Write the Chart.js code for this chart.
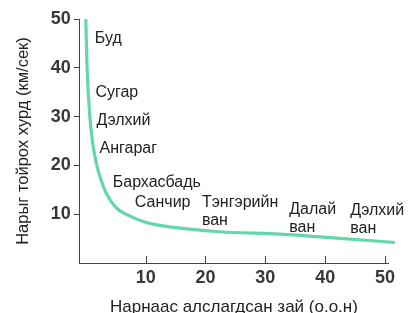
<!DOCTYPE html>
<html lang="mn">
<head>
    <meta charset="UTF-8">
    <title>Гаригуудын тойрох хурд</title>
    <script src="https://cdn.jsdelivr.net/npm/chart.js"></script>
    <style>
        body { margin: 0; background: #fff; }
        #wrap { width: 411px; height: 313px; }
    </style>
</head>
<body>
    <div id="wrap"><canvas id="orbitChart"></canvas></div>

    <script>
        // Distance from the Sun (AU) and orbital speed (km/s)
        const distances = [0, 0.2, 0.67, 1.1, 1.8, 2.6, 3.5, 5.1, 7.4, 10.1, 14, 22.4, 32.4, 41.9, 51.7];
        const speeds = [50, 40.4, 30.1, 25, 20.2, 16.8, 14.1, 11.3, 9.6, 8.3, 7.4, 6.4, 5.9, 5.1, 4.2];

        const xTicks = [10, 20, 30, 40, 50];
        const yTicks = [10, 20, 30, 40, 50];

        // Planet names, each line separate
        const planetNames = [['Буд'], ['Сугар'], ['Дэлхий'], ['Ангараг'], ['Бархасбадь'], ['Санчир'],
            ['Тэнгэрийн', 'ван'], ['Далай', 'ван'], ['Дэлхий', 'ван']];
        // where each name sits, in axis units
        const nameX = [1.5, 1.6, 1.8, 2.3, 4.5, 8.2, 19.4, 34, 44.2];
        const nameY = [46, 35, 29.2, 23.5, 16.5, 12.3, 12.3, 10.9, 10.7];

        const curveColor = '#62d8a9';
        const textColor = '#222';
        const fontFamily = '"Liberation Sans", Arial, sans-serif';

        // planet names + inward x tick marks
        const extrasPlugin = {
            id: 'extras',
            afterDraw(chart) {
                const c = chart.ctx;
                const xs = chart.scales.x, ys = chart.scales.y;
                c.save();
                c.strokeStyle = '#444';
                c.lineWidth = 1;
                xTicks.forEach(v => {
                    const px = Math.round(xs.getPixelForValue(v)) + 0.5;
                    c.beginPath();
                    c.moveTo(px, ys.bottom);
                    c.lineTo(px, ys.bottom - 7);
                    c.stroke();
                });
                c.fillStyle = textColor;
                c.font = '16px ' + fontFamily;
                c.textBaseline = 'middle';
                c.textAlign = 'left';
                planetNames.forEach((lines, i) => {
                    const px = xs.getPixelForValue(nameX[i]);
                    const py = ys.getPixelForValue(nameY[i]);
                    lines.forEach((t, j) => c.fillText(t, px, py + j * 18));
                });
                c.restore();
            }
        };

        const ctx = document.getElementById('orbitChart').getContext('2d');
        new Chart(ctx, {
            type: 'line',
            data: {
                datasets: [{
                    data: distances.map((d, i) => ({ x: d, y: speeds[i] })),
                    borderColor: curveColor,
                    borderWidth: 3.2,
                    pointRadius: 0,
                    cubicInterpolationMode: 'monotone',
                    fill: false,
                    clip: false
                }]
            },
            options: {
                responsive: true,
                maintainAspectRatio: false,
                animation: false,
                layout: { padding: { left: 14, right: 23, top: 19, bottom: -5 } },
                plugins: { legend: { display: false }, tooltip: { enabled: false } },
                scales: {
                    x: {
                        type: 'linear',
                        min: -1,
                        max: 50.5,
                        afterBuildTicks: s => { s.ticks = xTicks.map(v => ({ value: v })); },
                        grid: { display: false, tickLength: 0 },
                        border: { color: '#444', width: 1 },
                        ticks: {
                            color: '#383838',
                            font: { family: fontFamily, size: 18, weight: 'bold' },
                            padding: 4,
                            maxRotation: 0
                        },
                        title: {
                            display: true,
                            text: 'Нарнаас алслагдсан зай (о.о.н)',
                            color: textColor,
                            font: { family: fontFamily, size: 17 },
                            padding: { top: 5, bottom: 0 }
                        }
                    },
                    y: {
                        min: 0,
                        max: 50,
                        afterBuildTicks: s => { s.ticks = yTicks.map(v => ({ value: v })); },
                        grid: { drawOnChartArea: false, color: '#444', tickLength: 6 },
                        border: { color: '#444', width: 1 },
                        ticks: {
                            color: '#383838',
                            font: { family: fontFamily, size: 18, weight: 'bold' },
                            padding: 3
                        },
                        title: {
                            display: true,
                            text: 'Нарыг тойрох хурд (км/сек)',
                            color: textColor,
                            font: { family: fontFamily, size: 16.5 },
                            padding: { top: 0, bottom: 14 }
                        }
                    }
                }
            },
            plugins: [extrasPlugin]
        });
    </script>
</body>
</html>
